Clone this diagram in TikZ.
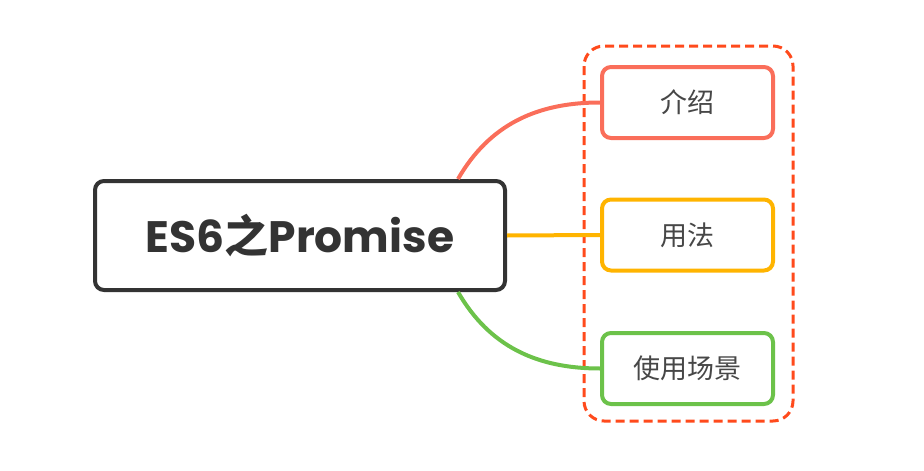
\documentclass[tikz,border=0pt]{standalone}
\usepackage{fontspec}
\usepackage{tikz}
\usetikzlibrary{positioning,calc}
\newfontfamily\poppins{Poppins}
\newfontfamily\cjk{Noto Sans CJK SC}
\definecolor{darkline}{HTML}{333333}
\definecolor{introred}{HTML}{FA6E5A}
\definecolor{useorange}{HTML}{FFB400}
\definecolor{casegreen}{HTML}{6CC24A}
\definecolor{groupred}{HTML}{FF4A1C}

\begin{document}
\begin{tikzpicture}[
  x=1pt, y=-1pt,
  root/.style={draw=darkline, line width=4pt, rounded corners=9pt, fill=white,
    minimum width=410pt, minimum height=109pt, inner sep=0pt, text=darkline},
  topic/.style={draw, line width=4pt, rounded corners=9pt, fill=white,
    minimum width=171pt, minimum height=71pt, inner sep=0pt, text=darkline!90,
    font=\cjk\fontsize{27}{31}\selectfont},
  link/.style={line width=4pt}
]
\useasboundingbox (0,0) rectangle (924,471);

% dashed group round the subtopics
\draw[groupred, line width=3pt, dash pattern=on 9pt off 5pt, rounded corners=20pt]
  (584,46) rectangle (793,421);

% Central topic
\node[root] (ES) at (300,235.5)
  {\fontsize{44}{50}\selectfont\poppins\bfseries ES6{\cjk\bfseries 之}Promise};

% Subtopics
\node[topic, draw=introred]   (intro) at (687.5,102.5) {介绍};
\node[topic, draw=useorange]  (usage) at (687.5,235)   {用法};
\node[topic, draw=casegreen]  (cases) at (687.5,368.5) {使用场景};

% --- connectors ---
\coordinate (ESup)   at ([xshift=-49pt]ES.north east);
\coordinate (ESdown) at ([xshift=-49pt]ES.south east);
\draw[link, introred]  (ESup)   to[out=60, in=180]  (intro.west);
\draw[link, useorange] (ES.east) -- (usage.west);
\draw[link, casegreen] (ESdown) to[out=-60, in=180] (cases.west);

\end{tikzpicture}
\end{document}
